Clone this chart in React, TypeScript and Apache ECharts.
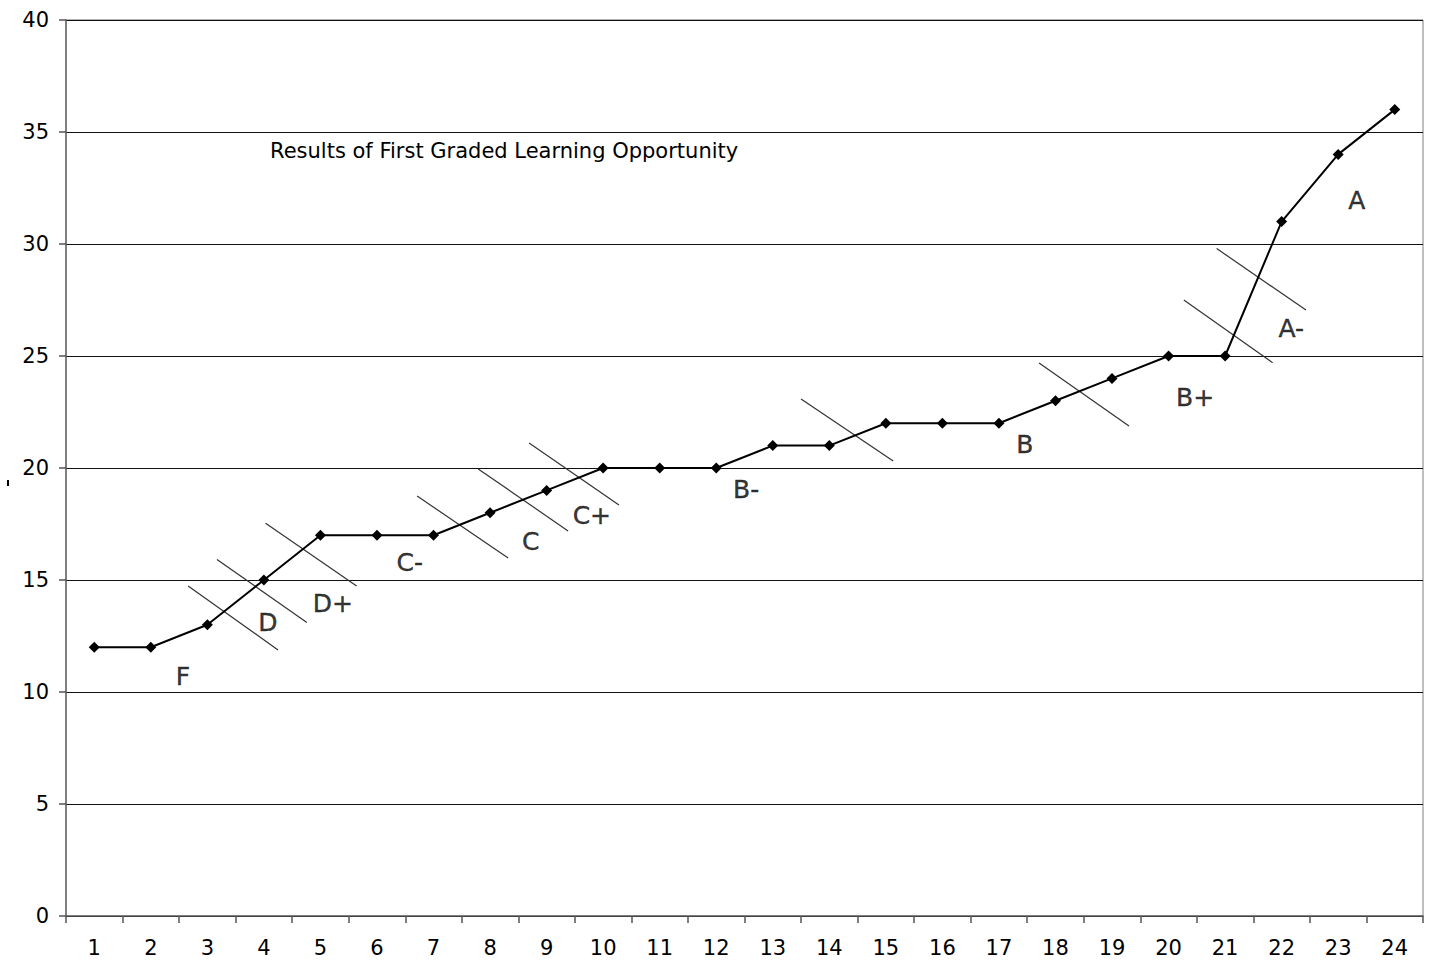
import React, { useEffect, useRef } from "react";
import * as echarts from "echarts";

const categories = ["1","2","3","4","5","6","7","8","9","10","11","12","13","14","15","16","17","18","19","20","21","22","23","24"];
const scores = [12, 12, 13, 15, 17, 17, 17, 18, 19, 20, 20, 20, 21, 21, 22, 22, 22, 23, 24, 25, 25, 31, 34, 36];
const yTicks = [0, 5, 10, 15, 20, 25, 30, 35, 40];

// grade boundary strokes, [x1, y1, x2, y2] in data units (x: position on a 0.5..24.5 scale)
const boundaries: number[][] = [
  [2.66, 14.73, 4.25, 11.88],
  [3.17, 15.92, 4.76, 13.1],
  [4.03, 17.53, 5.64, 14.73],
  [6.71, 18.75, 8.32, 15.98],
  [7.79, 19.96, 9.38, 17.19],
  [8.69, 21.12, 10.28, 18.35],
  [13.5, 23.08, 15.13, 20.31],
  [17.71, 24.69, 19.3, 21.88],
  [20.27, 27.5, 21.84, 24.7],
  [20.85, 29.8, 22.43, 27.05],
];

const gradeNames = ["F", "D", "D+", "C-", "C", "C+", "B-", "B", "B+", "A-", "A"];
const gradeX = [2.57, 4.07, 5.22, 6.58, 8.72, 9.8, 12.53, 17.46, 20.47, 22.17, 23.33];
const gradeY = [10.67, 13.1, 13.93, 15.8, 16.74, 17.9, 19.02, 21.07, 23.13, 26.25, 31.96];

const titleText = "Results of First Graded Learning Opportunity";

const FONT = "DejaVu Sans";

export default function App() {
  const ref = useRef<HTMLDivElement>(null);
  useEffect(() => {
    if (!ref.current) return;
    const chart = echarts.init(ref.current, null, { renderer: "svg" });
    const boundarySeries = boundaries.map((b, i) => ({
      type: "line",
      name: "b" + i,
      xAxisIndex: 1,
      yAxisIndex: 0,
      data: [[b[0], b[1]], [b[2], b[3]]],
      symbol: "none",
      lineStyle: { color: "#333", width: 1.2 },
      silent: true,
      z: 1,
    }));
    chart.setOption({
      animation: false,
      backgroundColor: "#fff",
      textStyle: { fontFamily: FONT },
      grid: { left: 66, right: 9, top: 20, bottom: 44, show: false },
      xAxis: [
        {
          type: "category",
          data: categories,
          boundaryGap: true,
          axisLine: { show: true, lineStyle: { color: "#555", width: 1.5 } },
          axisTick: { show: true, length: 7, inside: false, lineStyle: { color: "#555", width: 1.5 } },
          axisLabel: { fontSize: 21, color: "#000", margin: 21, fontFamily: FONT },
          splitLine: { show: false },
        },
        {
          type: "value",
          min: 0.5,
          max: 24.5,
          show: false,
          splitLine: { show: false },
        },
      ],
      yAxis: {
        type: "value",
        min: 0,
        max: 40,
        interval: 5,
        axisLine: { show: true, lineStyle: { color: "#555", width: 1.5 } },
        axisTick: { show: true, length: 7, lineStyle: { color: "#555", width: 1.5 } },
        axisLabel: {
          fontSize: 21,
          color: "#000",
          margin: 17,
          fontFamily: FONT,
          formatter: (v: number) => (yTicks.includes(v) ? String(v) : ""),
        },
        splitLine: { show: true, lineStyle: { color: "#111", width: 1 } },
      },
      graphic: [
        {
          type: "line",
          shape: { x1: 1423, y1: 20, x2: 1423, y2: 916 },
          style: { stroke: "#aaa", lineWidth: 1.5 },
          z: 0,
        },
        {
          type: "line",
          shape: { x1: 66, y1: 20, x2: 1423, y2: 20 },
          style: { stroke: "#999", lineWidth: 1.5 },
          z: 0,
        },
        {
          type: "rect",
          shape: { x: 7, y: 480, width: 2, height: 6 },
          style: { fill: "#000" },
        },
        {
          type: "text",
          left: 270,
          top: 140,
          style: { text: titleText, fontSize: 21, fontFamily: FONT, fill: "#000" },
        },
      ],
      series: [
        ...boundarySeries,
        {
          type: "line",
          name: "Score",
          xAxisIndex: 0,
          yAxisIndex: 0,
          data: scores,
          symbol: "diamond",
          symbolSize: 11,
          itemStyle: { color: "#000" },
          lineStyle: { color: "#000", width: 2 },
          z: 5,
        },
        {
          type: "scatter",
          name: "grades",
          xAxisIndex: 1,
          yAxisIndex: 0,
          symbolSize: 1,
          itemStyle: { color: "transparent" },
          data: gradeNames.map((g, i) => ({ value: [gradeX[i], gradeY[i]], name: g })),
          label: {
            show: true,
            position: "inside",
            formatter: (p: any) => p.name,
            fontSize: 25,
            fontFamily: FONT,
            color: "#000",
            textBorderColor: "#000",
            textBorderWidth: 0.4,
          },
          z: 6,
        },
      ],
    });
    return () => chart.dispose();
  }, []);
  return (
    <div
      ref={ref}
      style={{ position: "fixed", left: 0, top: 0, width: 1432, height: 960, background: "#fff" }}
    />
  );
}
